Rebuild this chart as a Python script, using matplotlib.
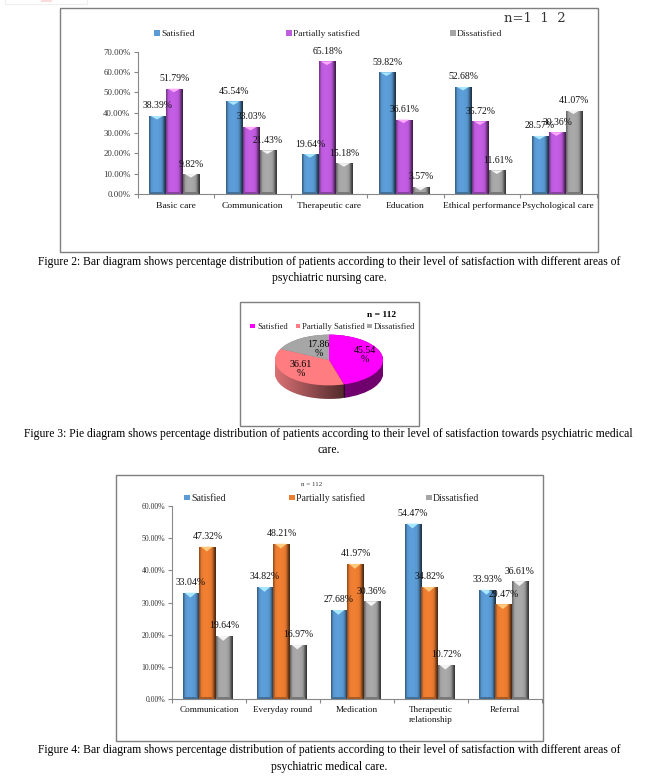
import numpy as np
import matplotlib
matplotlib.use("Agg")
import matplotlib.pyplot as plt
from matplotlib.patches import Rectangle, Polygon

W, H = 668, 778
plt.rcParams['font.family'] = ['Liberation Serif', 'DejaVu Serif']

legend1 = ["Satisfied", "Partially satisfied", "Dissatisfied"]
areas1 = ["Basic care", "Communication", "Therapeutic care", "Education",
          "Ethical performance", "Psychological care"]
satisfied1 = [38.39, 45.54, 19.64, 59.82, 52.68, 28.57]
partial1 = [51.79, 33.03, 65.18, 36.61, 35.72, 30.36]
dissatisfied1 = [9.82, 21.43, 15.18, 3.57, 11.61, 41.07]
ticks1 = [0, 10, 20, 30, 40, 50, 60, 70]

pie_labels = ["Satisfied", "Partially Satisfied", "Dissatisfied"]
pie_values = [45.54, 36.61, 17.86]

areas3 = ["Communication", "Everyday round", "Medication",
          "Therapeutic\nrelationship", "Referral"]
satisfied3 = [33.04, 34.82, 27.68, 54.47, 33.93]
partial3 = [47.32, 48.21, 41.97, 34.82, 29.47]
dissatisfied3 = [19.64, 16.97, 30.36, 10.72, 36.61]
ticks3 = [0, 10, 20, 30, 40, 50, 60]

cap2 = ("Figure 2: Bar diagram shows percentage distribution of patients according to their level of satisfaction with different areas of\n"
        "psychiatric nursing care.")
cap3 = ("Figure 3: Pie diagram shows percentage distribution of patients according to their level of satisfaction towards psychiatric medical\n"
        "care.")
cap4 = ("Figure 4: Bar diagram shows percentage distribution of patients according to their level of satisfaction with different areas of\n"
        "psychiatric medical care.")

fig = plt.figure(figsize=(W / 100, H / 100), dpi=100, facecolor='white')


def fx(x):
    return x / W


def fy(y):
    return 1 - y / H


def box(x0, y0, x1, y1, color='#7f7f7f', lw=1.0):
    fig.add_artist(Rectangle((fx(x0), fy(y1)), (x1 - x0) / W, (y1 - y0) / H,
                             transform=fig.transFigure, fill=False,
                             edgecolor=color, linewidth=lw))


def px_axes(x0, y0, x1, y1):
    return fig.add_axes([fx(x0), fy(y1), (x1 - x0) / W, (y1 - y0) / H])


def legend_row(entries, y, size, mark=5.5):
    # entries are (marker x, label, colour)
    for x, label, color in entries:
        fig.add_artist(Rectangle((fx(x), fy(y + mark / 2)), mark / W, mark / H,
                                 transform=fig.transFigure, facecolor=color,
                                 edgecolor='none'))
        fig.text(fx(x + 7), fy(y + size * 0.42), label, fontsize=size, va='baseline',
                 ha='left', color='#222222')


def shade(ax, bar, color):
    # side to side gradient plus small bevels at top and bottom of the bar
    x, w, h = bar.get_x(), bar.get_width(), bar.get_height()
    rgb = np.array(matplotlib.colors.to_rgb(color))
    prof = np.array([0.65, 0.95, 1.0, 1.02, 1.02, 1.02, 1.0, 0.98, 0.9, 0.62, 0.35])
    grad = np.clip(rgb[None, None, :] * prof[None, :, None], 0, 1)
    im = ax.imshow(grad, extent=(x, x + w, 0, h), aspect='auto', zorder=2,
                   interpolation='bilinear')
    im.set_clip_path(bar)
    ymax = ax.get_ylim()[1]
    top = min(ymax * 0.025, h * 0.6)
    light = np.clip(rgb + 0.3, 0, 1)
    ax.add_patch(Polygon([(x + w * 0.1, h), (x + w * 0.82, h), (x + w * 0.46, h - top)],
                         facecolor=light, edgecolor='none', zorder=3))
    ax.add_patch(Rectangle((x, 0), w * 0.9, ymax * 0.012, facecolor=rgb * 0.72,
                           edgecolor='none', zorder=3))


def bar_chart(rect, groups, series, colors, ticks, ymax, tick_size, cat_size, lab_size, cat_pad, shift=0.0):
    ax = px_axes(*rect)
    ax.set_xlim(0, len(groups))
    ax.set_ylim(0, ymax)
    width = 0.222
    ax.set_autoscale_on(False)
    for i, (vals, color) in enumerate(zip(series, colors)):
        xs = np.arange(len(groups)) + 0.5 + shift + (i - 1) * width
        bars = ax.bar(xs, vals, width, color=color, zorder=1)
        for b, v in zip(bars, vals):
            shade(ax, b, color)
            ax.annotate(f"{v:.2f}%", (b.get_x() + width / 2, v), xytext=(0, 10),
                        textcoords='offset pixels', ha='center', va='center',
                        fontsize=lab_size, color='#111111', zorder=5, annotation_clip=False)
    ax.set_yticks(ticks)
    ax.set_yticklabels([f"{t:.2f}%" for t in ticks], fontsize=tick_size, color='#333333')
    ax.set_xticks(np.arange(len(groups) + 1))
    ax.set_xticklabels([])
    ax.set_xticks(np.arange(len(groups)) + 0.5, groups, minor=True, fontsize=cat_size, color='#111111')
    for t in ax.get_xticklabels(minor=True):
        t.set_linespacing(1.25)
    ax.tick_params(axis='x', which='minor', length=0, pad=cat_pad)
    ax.tick_params(axis='x', which='major', length=3, color='#888888', width=0.8)
    ax.tick_params(axis='y', length=3, color='#888888', width=0.8, pad=2)
    for s in ('top', 'right'):
        ax.spines[s].set_visible(False)
    for s in ('left', 'bottom'):
        ax.spines[s].set_color('#888888')
        ax.spines[s].set_linewidth(0.8)
    ax.patch.set_alpha(0)
    return ax


# scrap of the page above the first chart
fig.add_artist(Rectangle((fx(5), fy(4)), 82 / W, 6 / H, transform=fig.transFigure,
                         fill=False, edgecolor='#eeeeee', linewidth=0.8))
fig.add_artist(Rectangle((fx(41), fy(1.5)), 11 / W, 2 / H, transform=fig.transFigure,
                         facecolor='#fbdcdc', edgecolor='none'))

# chart 1
box(60, 8, 598, 252)
colors1 = ['#5b9bd5', '#c05ce0', '#a6a6a6']
bar_chart((137.5, 51.7, 596.5, 194), areas1, [satisfied1, partial1, dissatisfied1], colors1,
          ticks1, 70, 6.3, 6.8, 7.0, 6, shift=-0.015)
legend_row([(154, legend1[0], colors1[0]), (286, legend1[1], colors1[1]),
            (450, legend1[2], colors1[2])], 33, 6.8)
fig.text(fx(535), fy(19), "n=1  1  2", fontsize=9.5, ha='center', va='center',
         color='#333333', family='DejaVu Serif')

fig.text(fx(329), fy(270), cap2, fontsize=8.36, ha='center', va='center', linespacing=1.55)

# chart 2
box(240, 302, 419, 426)
pie_colors = ['#ff00ff', '#ff7c80', '#a6a6a6']
side_colors = ['#70006e', '#d87074', '#777777']
ax2 = px_axes(275, 330, 383, 405)
radius = 54
units = 75 / (25.4 / radius)
cy = 45 / (25.4 / radius)
depth = 13.5 / (25.4 / radius)
for dy in np.arange(depth, 0, -1.5):
    ax2.pie(pie_values, colors=side_colors, startangle=90, counterclock=False, radius=radius,
            center=(radius, cy - dy), frame=True)
# the side of the salmon slice gets darker towards the front
shade_rgba = np.zeros((1, 32, 4))
shade_rgba[0, :, 3] = np.linspace(0.0, 0.62, 32)
shadow = ax2.imshow(shade_rgba, extent=(0, 70, 0, units), aspect='auto', zorder=1.5)
theta = np.linspace(np.pi, 2 * np.pi, 80)
front = Polygon(np.column_stack([radius + radius * np.cos(theta),
                                 cy - depth + radius * np.sin(theta)]).tolist()
                + [(2 * radius, cy), (0, cy)], transform=ax2.transData)
shadow.set_clip_path(front)
wedges, _ = ax2.pie(pie_values, colors=pie_colors, startangle=90, counterclock=False,
                    radius=radius, center=(radius, cy), frame=True)
for w in wedges:
    w.set_zorder(2)
ax2.set_aspect('auto')
ax2.set_xlim(0, 2 * radius)
ax2.set_ylim(0, units)
ax2.axis('off')
legend_row([(250, pie_labels[0], pie_colors[0]), (295.5, pie_labels[1], pie_colors[1]),
            (367, pie_labels[2], pie_colors[2])], 326, 6.2, mark=4.5)
fig.text(fx(381.5), fy(314.7), "n = 112", fontsize=6.8, fontweight='bold', ha='center', va='center')
for (x, y), v in zip([(365, 355), (300.5, 369), (318.7, 349)], pie_values):
    fig.text(fx(x), fy(y), f"{v:.2f}\n%", fontsize=7.2, ha='center', va='center', linespacing=1.1)

fig.text(fx(328.5), fy(442), cap3, fontsize=8.36, ha='center', va='center', linespacing=1.55)

# chart 3
box(116, 475, 543, 741)
colors3 = ['#5b9bd5', '#ed7d31', '#a6a6a6']
bar_chart((172, 505.7, 542, 699.3), areas3, [satisfied3, partial3, dissatisfied3], colors3,
          ticks3, 60, 5.6, 6.6, 7.0, 5, shift=-0.02)
legend_row([(184, legend1[0], colors3[0]), (289, legend1[1], colors3[1]),
            (426, legend1[2], colors3[2])], 497.7, 7.0)
fig.text(fx(312), fy(485), "n = 112", fontsize=5, ha='center', va='center', color='#333333')

fig.text(fx(329.5), fy(758.5), cap4, fontsize=8.36, ha='center', va='center', linespacing=1.55)

fig.savefig('out.png', dpi=100)
